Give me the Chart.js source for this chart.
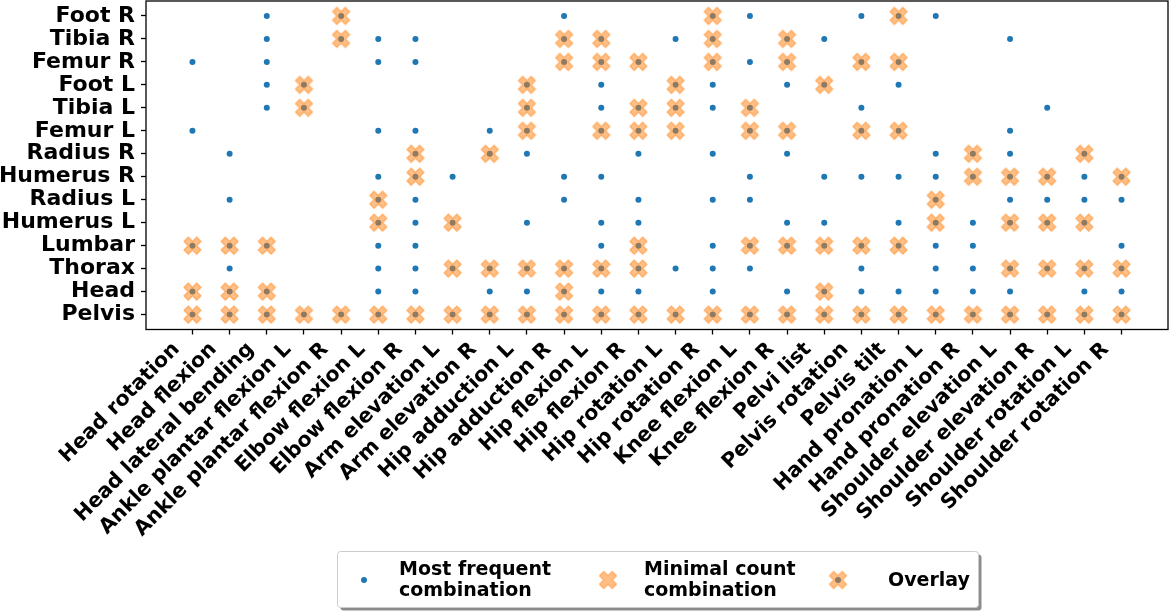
<!DOCTYPE html>
<html>
<head>
<meta charset="utf-8">
<script src="https://cdn.jsdelivr.net/npm/chart.js@4"></script>
<style>
  html, body { margin: 0; padding: 0; background: #fff; }
  #wrap { width: 1170px; height: 611px; position: relative; }
</style>
</head>
<body>
<div id="wrap"><canvas id="chart" width="1170" height="611"></canvas></div>
<script>
// body segments on the y axis, bottom to top
const joints = ['Pelvis', 'Head', 'Thorax', 'Lumbar', 'Humerus L', 'Radius L', 'Humerus R',
  'Radius R', 'Femur L', 'Tibia L', 'Foot L', 'Femur R', 'Tibia R', 'Foot R'];

// motions on the x axis
const motions = ['Head rotation', 'Head flexion', 'Head lateral bending', 'Ankle plantar flexion L',
  'Ankle plantar flexion R', 'Elbow flexion L', 'Elbow flexion R', 'Arm elevation L', 'Arm elevation R',
  'Hip adduction L', 'Hip adduction R', 'Hip flexion L', 'Hip flexion R', 'Hip rotation L',
  'Hip rotation R', 'Knee flexion L', 'Knee flexion R', 'Pelvi list', 'Pelvis rotation', 'Pelvis tilt',
  'Hand pronation L', 'Hand pronation R', 'Shoulder elevation L', 'Shoulder elevation R',
  'Shoulder rotation L', 'Shoulder rotation R'];

// segments in the most frequent combination, one list per motion
const mostFrequent = [
  ['Femur R', 'Femur L', 'Lumbar', 'Head', 'Pelvis'],
  ['Radius R', 'Radius L', 'Lumbar', 'Thorax', 'Head', 'Pelvis'],
  ['Foot R', 'Tibia R', 'Femur R', 'Foot L', 'Tibia L', 'Lumbar', 'Head', 'Pelvis'],
  ['Foot L', 'Tibia L', 'Pelvis'],
  ['Foot R', 'Tibia R', 'Pelvis'],
  ['Tibia R', 'Femur R', 'Femur L', 'Humerus R', 'Radius L', 'Humerus L', 'Lumbar', 'Thorax', 'Head', 'Pelvis'],
  ['Tibia R', 'Femur R', 'Femur L', 'Radius R', 'Humerus R', 'Radius L', 'Humerus L', 'Lumbar', 'Thorax', 'Head', 'Pelvis'],
  ['Humerus R', 'Humerus L', 'Thorax', 'Pelvis'],
  ['Femur L', 'Radius R', 'Thorax', 'Head', 'Pelvis'],
  ['Foot L', 'Tibia L', 'Femur L', 'Radius R', 'Humerus L', 'Thorax', 'Head', 'Pelvis'],
  ['Foot R', 'Tibia R', 'Femur R', 'Humerus R', 'Radius L', 'Thorax', 'Head', 'Pelvis'],
  ['Tibia R', 'Femur R', 'Foot L', 'Tibia L', 'Femur L', 'Humerus R', 'Humerus L', 'Lumbar', 'Thorax', 'Head', 'Pelvis'],
  ['Femur R', 'Tibia L', 'Femur L', 'Radius R', 'Radius L', 'Humerus L', 'Lumbar', 'Thorax', 'Head', 'Pelvis'],
  ['Tibia R', 'Foot L', 'Tibia L', 'Femur L', 'Thorax', 'Pelvis'],
  ['Foot R', 'Tibia R', 'Femur R', 'Foot L', 'Tibia L', 'Radius R', 'Radius L', 'Lumbar', 'Thorax', 'Head', 'Pelvis'],
  ['Foot R', 'Femur R', 'Tibia L', 'Femur L', 'Humerus R', 'Radius L', 'Lumbar', 'Thorax', 'Pelvis'],
  ['Tibia R', 'Femur R', 'Foot L', 'Femur L', 'Radius R', 'Humerus L', 'Lumbar', 'Head', 'Pelvis'],
  ['Tibia R', 'Foot L', 'Humerus R', 'Humerus L', 'Lumbar', 'Head', 'Pelvis'],
  ['Foot R', 'Femur R', 'Tibia L', 'Femur L', 'Humerus R', 'Lumbar', 'Thorax', 'Head', 'Pelvis'],
  ['Foot R', 'Femur R', 'Foot L', 'Femur L', 'Humerus R', 'Humerus L', 'Lumbar', 'Head', 'Pelvis'],
  ['Foot R', 'Radius R', 'Humerus R', 'Radius L', 'Humerus L', 'Lumbar', 'Thorax', 'Head', 'Pelvis'],
  ['Radius R', 'Humerus R', 'Humerus L', 'Lumbar', 'Thorax', 'Head', 'Pelvis'],
  ['Tibia R', 'Femur L', 'Radius R', 'Humerus R', 'Radius L', 'Humerus L', 'Thorax', 'Head', 'Pelvis'],
  ['Tibia L', 'Humerus R', 'Radius L', 'Humerus L', 'Thorax', 'Pelvis'],
  ['Radius R', 'Humerus R', 'Radius L', 'Humerus L', 'Thorax', 'Head', 'Pelvis'],
  ['Humerus R', 'Radius L', 'Lumbar', 'Thorax', 'Head', 'Pelvis']
];

// segments in the minimal count combination, one list per motion
const minimalCount = [
  ['Lumbar', 'Head', 'Pelvis'],
  ['Lumbar', 'Head', 'Pelvis'],
  ['Lumbar', 'Head', 'Pelvis'],
  ['Foot L', 'Tibia L', 'Pelvis'],
  ['Foot R', 'Tibia R', 'Pelvis'],
  ['Radius L', 'Humerus L', 'Pelvis'],
  ['Radius R', 'Humerus R', 'Pelvis'],
  ['Humerus L', 'Thorax', 'Pelvis'],
  ['Radius R', 'Thorax', 'Pelvis'],
  ['Foot L', 'Tibia L', 'Femur L', 'Thorax', 'Pelvis'],
  ['Tibia R', 'Femur R', 'Thorax', 'Head', 'Pelvis'],
  ['Tibia R', 'Femur R', 'Femur L', 'Thorax', 'Pelvis'],
  ['Femur R', 'Tibia L', 'Femur L', 'Lumbar', 'Thorax', 'Pelvis'],
  ['Foot L', 'Tibia L', 'Femur L', 'Pelvis'],
  ['Foot R', 'Tibia R', 'Femur R', 'Pelvis'],
  ['Tibia L', 'Femur L', 'Lumbar', 'Pelvis'],
  ['Tibia R', 'Femur R', 'Femur L', 'Lumbar', 'Pelvis'],
  ['Foot L', 'Lumbar', 'Head', 'Pelvis'],
  ['Femur R', 'Femur L', 'Lumbar', 'Pelvis'],
  ['Foot R', 'Femur R', 'Femur L', 'Lumbar', 'Pelvis'],
  ['Radius L', 'Humerus L', 'Pelvis'],
  ['Radius R', 'Humerus R', 'Pelvis'],
  ['Humerus R', 'Humerus L', 'Thorax', 'Pelvis'],
  ['Humerus R', 'Humerus L', 'Thorax', 'Pelvis'],
  ['Radius R', 'Humerus L', 'Thorax', 'Pelvis'],
  ['Humerus R', 'Thorax', 'Pelvis']
];

const blue = '#1f77b4';
const orangeA = 'rgba(255,127,14,0.5)';
const FONT = '"DejaVu Sans", sans-serif';

function toPoints(lists) {
  const pts = [];
  lists.forEach((segs, i) => segs.forEach(s => pts.push({ x: i, y: joints.indexOf(s) })));
  return pts;
}

// filled "X" marker like matplotlib's, semi transparent
function makeX(half) {
  const size = Math.ceil(half * 2 + 4);
  const c = document.createElement('canvas');
  c.width = c.height = size;
  const g = c.getContext('2d');
  const k = half / 2.83;
  const shape = [[-1,-3],[1,-3],[1,-1],[3,-1],[3,1],[1,1],[1,3],[-1,3],[-1,1],[-3,1],[-3,-1],[-1,-1]];
  g.translate(size / 2, size / 2);
  g.rotate(Math.PI / 4);
  g.beginPath();
  shape.forEach(([x, y], i) => i ? g.lineTo(x * k, y * k) : g.moveTo(x * k, y * k));
  g.closePath();
  g.fillStyle = orangeA;
  g.fill();
  g.lineWidth = 1.3;
  g.strokeStyle = orangeA;
  g.stroke();
  return c;
}
const xImg = makeX(8.5);

const frameAndLegend = {
  id: 'frameAndLegend',
  afterDraw(chart) {
    const ctx = chart.ctx;
    const a = chart.chartArea;
    ctx.save();
    ctx.strokeStyle = '#000';
    ctx.lineWidth = 1.3;
    ctx.strokeRect(a.left, a.top, a.right - a.left, a.bottom - a.top);

    // legend box with shadow
    const bx = 337.5, by = 551.5, bw = 641, bh = 56, r = 3;
    const rr = (x, y) => { ctx.beginPath(); ctx.roundRect(x, y, bw, bh, r); };
    ctx.fillStyle = 'rgba(0,0,0,0.45)';
    rr(bx + 3, by + 3); ctx.fill();
    ctx.fillStyle = '#fff';
    rr(bx, by); ctx.fill();
    ctx.strokeStyle = '#cccccc';
    ctx.lineWidth = 1;
    ctx.stroke();

    ctx.fillStyle = blue;
    ctx.beginPath(); ctx.arc(364, 580, 3, 0, Math.PI * 2); ctx.fill();
    ctx.drawImage(xImg, 608 - xImg.width / 2, 580 - xImg.height / 2);
    ctx.fillStyle = blue;
    ctx.beginPath(); ctx.arc(838, 580, 3, 0, Math.PI * 2); ctx.fill();
    ctx.drawImage(xImg, 838 - xImg.width / 2, 580 - xImg.height / 2);

    ctx.fillStyle = '#000';
    ctx.font = 'bold 19px ' + FONT;
    ctx.textAlign = 'left';
    ctx.textBaseline = 'alphabetic';
    ctx.fillText('Most frequent', 399, 575);
    ctx.fillText('combination', 399, 596);
    ctx.fillText('Minimal count', 644, 575);
    ctx.fillText('combination', 644, 596);
    ctx.fillText('Overlay', 888, 586);
    ctx.restore();
  }
};

new Chart(document.getElementById('chart'), {
  type: 'scatter',
  data: {
    datasets: [
      {
        label: 'Minimal count combination',
        data: toPoints(minimalCount),
        pointStyle: xImg,
        pointRadius: 8,
        order: 1
      },
      {
        label: 'Most frequent combination',
        data: toPoints(mostFrequent),
        pointStyle: 'circle',
        pointRadius: 3,
        backgroundColor: blue,
        borderWidth: 0,
        order: 2
      }
    ]
  },
  options: {
    responsive: false,
    animation: false,
    events: [],
    layout: { autoPadding: false, padding: { top: 1, right: 2, left: 0, bottom: 0 } },
    plugins: { legend: { display: false }, tooltip: { enabled: false } },
    scales: {
      x: {
        type: 'linear',
        min: -1.25,
        max: 26.25,
        afterBuildTicks: s => { s.ticks = motions.map((_, i) => ({ value: i })); },
        afterFit: s => { s.height = 281.5; s.paddingLeft = 0; s.paddingRight = 0; },
        ticks: {
          callback: v => motions[v],
          autoSkip: false,
          minRotation: 45,
          maxRotation: 45,
          labelOffset: -16,
          padding: 3,
          color: '#000',
          font: { family: FONT, size: 20.5, weight: 'bold' }
        },
        grid: { drawOnChartArea: false, drawTicks: true, tickLength: 5, tickColor: '#000', tickWidth: 1.3 },
        border: { display: false }
      },
      y: {
        type: 'linear',
        min: -0.65,
        max: 13.65,
        afterBuildTicks: s => { s.ticks = joints.map((_, i) => ({ value: i })); },
        afterFit: s => { s.width = 146; s.paddingTop = 0; s.paddingBottom = 0; },
        ticks: {
          callback: v => joints[v],
          autoSkip: false,
          padding: 6,
          color: '#000',
          font: { family: FONT, size: 22, weight: 'bold' }
        },
        grid: { drawOnChartArea: false, drawTicks: true, tickLength: 5, tickColor: '#000', tickWidth: 1.3 },
        border: { display: false }
      }
    }
  },
  plugins: [frameAndLegend]
});
</script>
</body>
</html>
